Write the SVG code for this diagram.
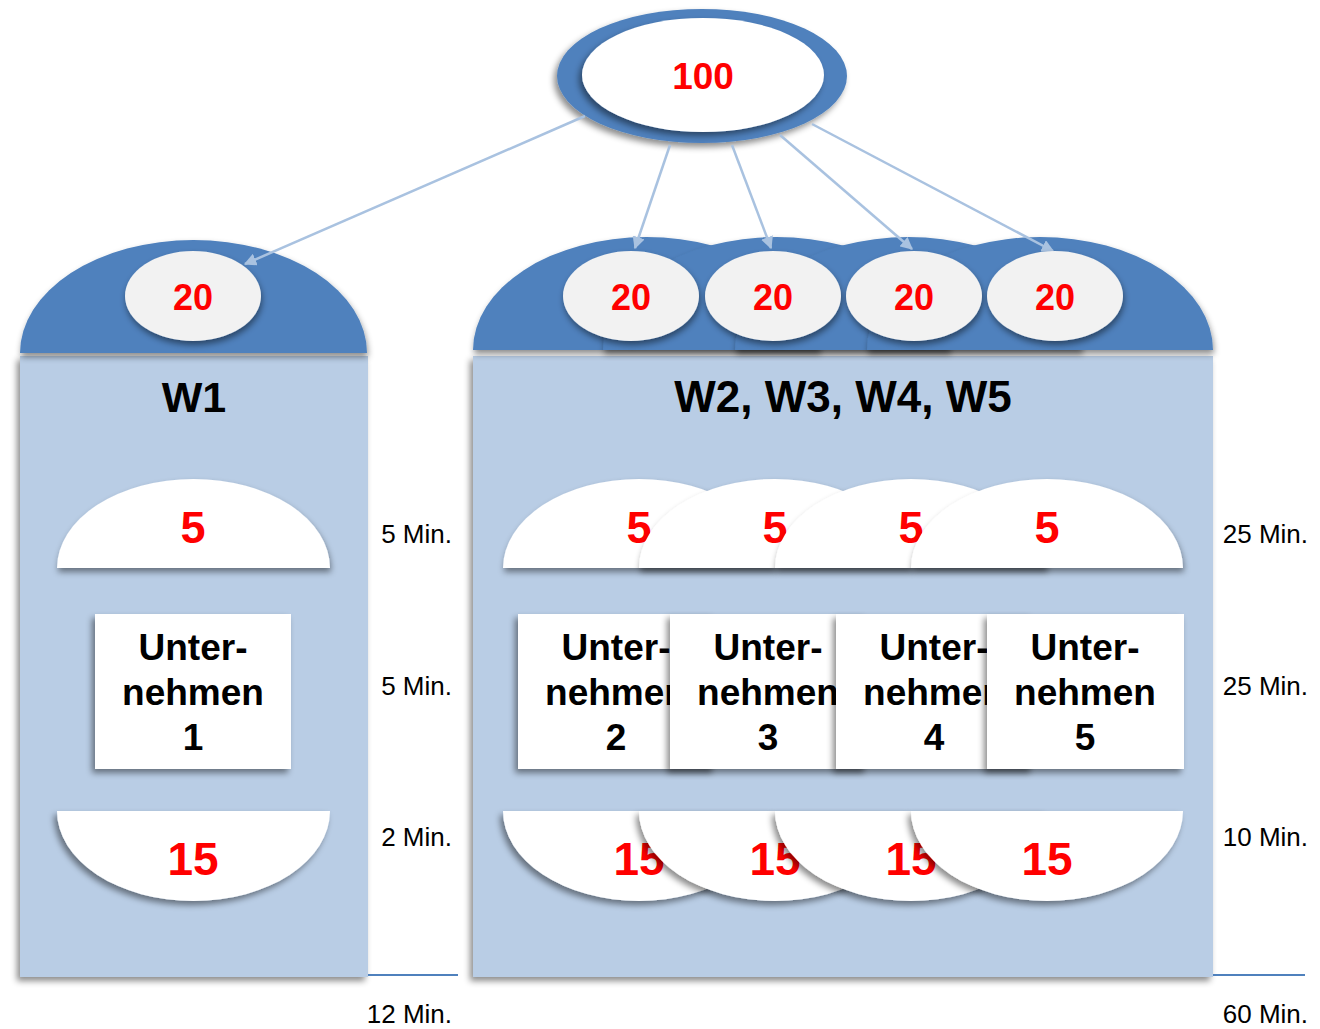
<svg xmlns="http://www.w3.org/2000/svg" width="1320" height="1029" viewBox="0 0 1320 1029">
<defs>
<filter id="sh" x="-20%" y="-20%" width="140%" height="150%"><feDropShadow dx="1" dy="4" stdDeviation="3" flood-color="#000" flood-opacity="0.45"/></filter>
<filter id="shl" x="-20%" y="-20%" width="140%" height="150%"><feDropShadow dx="-3" dy="4" stdDeviation="3" flood-color="#000" flood-opacity="0.45"/></filter>
<marker id="ah" viewBox="0 0 10 10" refX="9" refY="5" markerWidth="5" markerHeight="5" orient="auto-start-reverse" markerUnits="strokeWidth"><path d="M0,0 L10,5 L0,10 Z" fill="#a9c2e0"/></marker>
</defs>
<style>
.dome{fill:#4f81bd}
.panel{fill:#b9cde5}
.oval{fill:#f2f2f2}
.white{fill:#ffffff}
.red{fill:#ff0000;font-family:"Liberation Sans",Arial,sans-serif;font-weight:bold;text-anchor:middle}
.blk{fill:#000;font-family:"Liberation Sans",Arial,sans-serif;font-weight:bold;text-anchor:middle}
.lbl{fill:#000;font-family:"Liberation Sans",Arial,sans-serif;font-size:26px;text-anchor:end}
.conn{stroke:#a9c2e0;stroke-width:2.5;fill:none}
.base{stroke:#4f81bd;stroke-width:2}
</style>

<g id="panels">
<rect class="panel" x="20" y="356" width="348" height="621" filter="url(#shl)"/>
<rect class="panel" x="473" y="356" width="740" height="621" filter="url(#shl)"/>
</g>

<g id="dome-w1"><path class="dome" d="M20,353 A173.5,113 0 0 1 367,353 Z" filter="url(#sh)"/></g>
<g id="domes-w2-w5">
<path class="dome" d="M473,350 A173.5,113 0 0 1 820,350 Z" filter="url(#sh)"/>
<path class="dome" d="M603,350 A173.5,113 0 0 1 950,350 Z" filter="url(#sh)"/>
<path class="dome" d="M735,350 A173.5,113 0 0 1 1082,350 Z" filter="url(#sh)"/>
<path class="dome" d="M867,350 A173,113 0 0 1 1213,350 Z" filter="url(#sh)"/>
</g>

<g id="top-node">
<ellipse class="dome" cx="702" cy="76" rx="145" ry="67" filter="url(#shl)"/>
<ellipse class="white" cx="703" cy="75" rx="121" ry="57" filter="url(#shl)"/>
<text class="red" x="703" y="89" font-size="37">100</text>
</g>

<g id="connectors">
<line class="conn" x1="585" y1="116" x2="245" y2="264" marker-end="url(#ah)"/>
<line class="conn" x1="670" y1="145" x2="635" y2="248" marker-end="url(#ah)"/>
<line class="conn" x1="732" y1="145" x2="771" y2="248" marker-end="url(#ah)"/>
<line class="conn" x1="780" y1="135" x2="912" y2="249" marker-end="url(#ah)"/>
<line class="conn" x1="812" y1="124" x2="1053" y2="251" marker-end="url(#ah)"/>
</g>

<g id="n20-1"><ellipse class="oval" cx="193" cy="296" rx="68" ry="45" filter="url(#sh)"/><text class="red" x="193" y="310" font-size="36">20</text></g>
<g id="n20-2"><ellipse class="oval" cx="631" cy="296" rx="68" ry="45" filter="url(#sh)"/><text class="red" x="631" y="310" font-size="36">20</text></g>
<g id="n20-3"><ellipse class="oval" cx="773" cy="296" rx="68" ry="45" filter="url(#sh)"/><text class="red" x="773" y="310" font-size="36">20</text></g>
<g id="n20-4"><ellipse class="oval" cx="914" cy="296" rx="68" ry="45" filter="url(#sh)"/><text class="red" x="914" y="310" font-size="36">20</text></g>
<g id="n20-5"><ellipse class="oval" cx="1055" cy="296" rx="68" ry="45" filter="url(#sh)"/><text class="red" x="1055" y="310" font-size="36">20</text></g>

<g id="title-w1"><text class="blk" x="194" y="412" font-size="43">W1</text></g>
<g id="title-w2-w5"><text class="blk" x="843" y="412" font-size="44">W2, W3, W4, W5</text></g>

<g id="n5-1"><path class="white" d="M57,568 A136.5,89 0 0 1 330,568 Z" filter="url(#sh)"/><text class="red" x="193" y="543" font-size="45">5</text></g>
<g id="n5-2"><path class="white" d="M503,568 A136,89 0 0 1 775,568 Z" filter="url(#sh)"/><text class="red" x="639" y="543" font-size="45">5</text></g>
<g id="n5-3"><path class="white" d="M639,568 A136,89 0 0 1 911,568 Z" filter="url(#sh)"/><text class="red" x="775" y="543" font-size="45">5</text></g>
<g id="n5-4"><path class="white" d="M775,568 A136,89 0 0 1 1047,568 Z" filter="url(#sh)"/><text class="red" x="911" y="543" font-size="45">5</text></g>
<g id="n5-5"><path class="white" d="M911,568 A136,89 0 0 1 1183,568 Z" filter="url(#sh)"/><text class="red" x="1047" y="543" font-size="45">5</text></g>

<g id="u1"><rect class="white" x="95" y="614" width="196" height="155" filter="url(#shl)"/><text class="blk" x="193" font-size="37"><tspan x="193" y="660">Unter-</tspan><tspan x="193" y="705">nehmen</tspan><tspan x="193" y="750">1</tspan></text></g>
<g id="u2"><rect class="white" x="518" y="614" width="197" height="155" filter="url(#shl)"/><text class="blk" x="616" font-size="37"><tspan x="616" y="660">Unter-</tspan><tspan x="616" y="705">nehmen</tspan><tspan x="616" y="750">2</tspan></text></g>
<g id="u3"><rect class="white" x="670" y="614" width="197" height="155" filter="url(#shl)"/><text class="blk" x="768" font-size="37"><tspan x="768" y="660">Unter-</tspan><tspan x="768" y="705">nehmen</tspan><tspan x="768" y="750">3</tspan></text></g>
<g id="u4"><rect class="white" x="836" y="614" width="197" height="155" filter="url(#shl)"/><text class="blk" x="934" font-size="37"><tspan x="934" y="660">Unter-</tspan><tspan x="934" y="705">nehmen</tspan><tspan x="934" y="750">4</tspan></text></g>
<g id="u5"><rect class="white" x="987" y="614" width="197" height="155" filter="url(#shl)"/><text class="blk" x="1085" font-size="37"><tspan x="1085" y="660">Unter-</tspan><tspan x="1085" y="705">nehmen</tspan><tspan x="1085" y="750">5</tspan></text></g>

<g id="n15-1"><path class="white" d="M57,811 A136.5,90 0 0 0 330,811 Z" filter="url(#shl)"/><text class="red" x="193" y="875" font-size="46">15</text></g>
<g id="n15-2"><path class="white" d="M503,811 A136,90 0 0 0 775,811 Z" filter="url(#shl)"/><text class="red" x="639" y="875" font-size="46">15</text></g>
<g id="n15-3"><path class="white" d="M639,811 A136,90 0 0 0 911,811 Z" filter="url(#shl)"/><text class="red" x="775" y="875" font-size="46">15</text></g>
<g id="n15-4"><path class="white" d="M775,811 A136,90 0 0 0 1047,811 Z" filter="url(#shl)"/><text class="red" x="911" y="875" font-size="46">15</text></g>
<g id="n15-5"><path class="white" d="M911,811 A136,90 0 0 0 1183,811 Z" filter="url(#shl)"/><text class="red" x="1047" y="875" font-size="46">15</text></g>

<g id="times-left">
<text class="lbl" x="452" y="543">5 Min.</text>
<text class="lbl" x="452" y="695">5 Min.</text>
<text class="lbl" x="452" y="846">2 Min.</text>
<line class="base" x1="368" y1="975" x2="458" y2="975"/>
<text class="lbl" x="452" y="1023">12 Min.</text>
</g>
<g id="times-right">
<text class="lbl" x="1308" y="543">25 Min.</text>
<text class="lbl" x="1308" y="695">25 Min.</text>
<text class="lbl" x="1308" y="846">10 Min.</text>
<line class="base" x1="1213" y1="975" x2="1305" y2="975"/>
<text class="lbl" x="1308" y="1023">60 Min.</text>
</g>
</svg>
